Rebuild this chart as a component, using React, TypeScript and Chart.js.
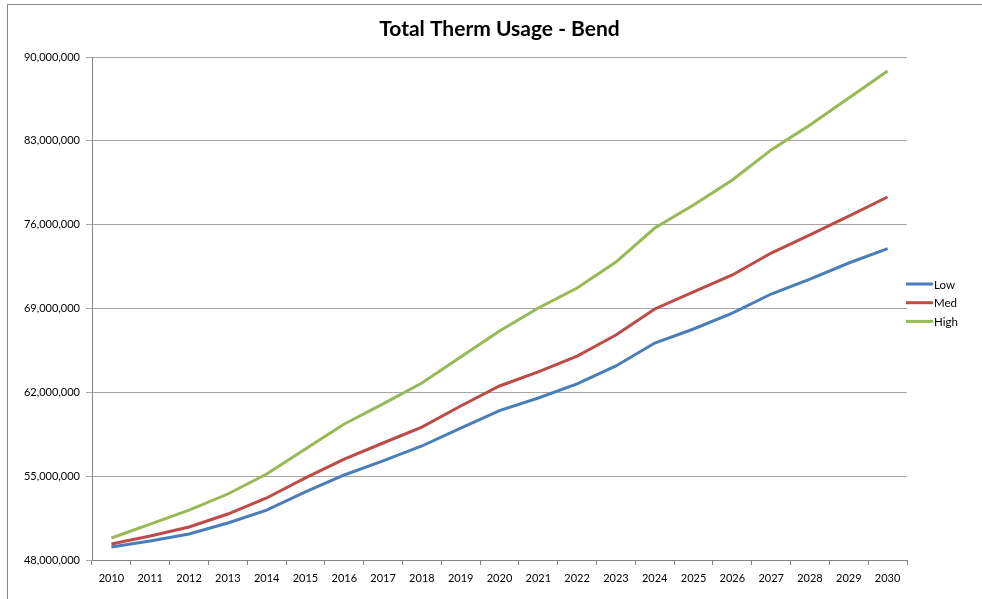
import React, { useEffect, useRef } from "react";
import { Chart, registerables } from "chart.js";

Chart.register(...registerables);

const years = ["2010","2011","2012","2013","2014","2015","2016","2017","2018","2019","2020","2021","2022","2023","2024","2025","2026","2027","2028","2029","2030"];
const lowSeries = [49.09,49.59,50.17,51.09,52.17,53.68,55.1,56.27,57.52,59.02,60.47,61.53,62.7,64.2,66.12,67.29,68.62,70.21,71.46,72.8,74.0].map(v => v * 1e6);
const medSeries = [49.34,50.0,50.76,51.84,53.18,54.85,56.43,57.77,59.1,60.86,62.53,63.7,65.03,66.79,68.96,70.38,71.8,73.63,75.14,76.72,78.31].map(v => v * 1e6);
const highSeries = [49.84,51.0,52.17,53.51,55.18,57.27,59.36,61.03,62.78,64.95,67.12,69.04,70.71,72.88,75.72,77.64,79.73,82.24,84.32,86.58,88.83].map(v => v * 1e6);
const seriesNames = ["Low", "Med", "High"];
const seriesColors = ["#4A7EBB", "#BE4B48", "#98B954"];
const titleText = "Total Therm Usage - Bend";
const yMin = 48000000;
const yMax = 90000000;
const yStep = 7000000;

const FONT = "Lato, 'Open Sans', sans-serif";

const titleLegendPlugin = {
  id: "titleLegend",
  afterDraw(chart: any) {
    const ctx = chart.ctx;
    const area = chart.chartArea;
    ctx.save();
    ctx.fillStyle = "#000";
    ctx.font = `bold 21px ${FONT}`;
    ctx.textAlign = "center";
    ctx.textBaseline = "middle";
    ctx.fillText(titleText, (area.left + area.right) / 2, 29);
    // legend
    const ds = chart.data.datasets;
    const x0 = 906;
    const y0 = 284;
    const gap = 18.7;
    ctx.font = `11.5px ${FONT}`;
    ctx.textAlign = "left";
    ds.forEach((d: any, i: number) => {
      const y = y0 + i * gap;
      ctx.strokeStyle = d.borderColor;
      ctx.lineWidth = 3;
      ctx.beginPath();
      ctx.moveTo(x0, y);
      ctx.lineTo(x0 + 27, y);
      ctx.stroke();
      ctx.fillStyle = "#000";
      ctx.fillText(d.label, x0 + 28, y + 1);
    });
    ctx.restore();
  },
};

export default function App() {
  const ref = useRef<HTMLCanvasElement | null>(null);
  useEffect(() => {
    if (!ref.current) return;
    const datasets = [lowSeries, medSeries, highSeries].map((data, i) => ({
      label: seriesNames[i],
      data,
      borderColor: seriesColors[i],
      backgroundColor: seriesColors[i],
      borderWidth: 3,
      pointRadius: 0,
      tension: 0,
      fill: false,
    }));
    const chart = new Chart(ref.current, {
      type: "line",
      data: { labels: years, datasets },
      options: {
        responsive: false,
        animation: false,
        layout: { padding: { left: 0, top: 57, right: 75, bottom: 0 } },
        plugins: {
          legend: { display: false },
          title: { display: false },
          tooltip: { enabled: false },
        },
        scales: {
          x: {
            offset: true,
            grid: {
              offset: true,
              drawOnChartArea: false,
              drawTicks: true,
              tickLength: 5,
              color: "#868686",
            },
            border: { color: "#868686", width: 1 },
            ticks: {
              color: "#000",
              font: { family: FONT, size: 11 },
              padding: 7,
              maxRotation: 0,
              autoSkip: false,
            },
            afterFit: (s: any) => { s.height = 39; },
          },
          y: {
            min: yMin,
            max: yMax,
            grid: {
              color: "#A6A6A6",
              lineWidth: 1,
              tickLength: 6,
            },
            border: { color: "#868686", width: 1 },
            ticks: {
              stepSize: yStep,
              color: "#000",
              font: { family: FONT, size: 11 },
              padding: 6,
              callback: (v: any) => Number(v).toLocaleString("en-US"),
            },
            afterFit: (s: any) => { s.width = 92; },
          },
        },
      },
      plugins: [titleLegendPlugin],
    });
    return () => chart.destroy();
  }, []);

  return (
    <div style={{ position: "fixed", left: 0, top: 0, width: 982, height: 599, background: "#fff", overflow: "hidden" }}>
      <div style={{ position: "absolute", left: 7, top: 4, width: 1100, height: 1000, borderLeft: "1px solid #868686", borderTop: "1px solid #868686" }} />
      <canvas ref={ref} width={982} height={599} style={{ position: "absolute", left: 0, top: 0 }} />
    </div>
  );
}
